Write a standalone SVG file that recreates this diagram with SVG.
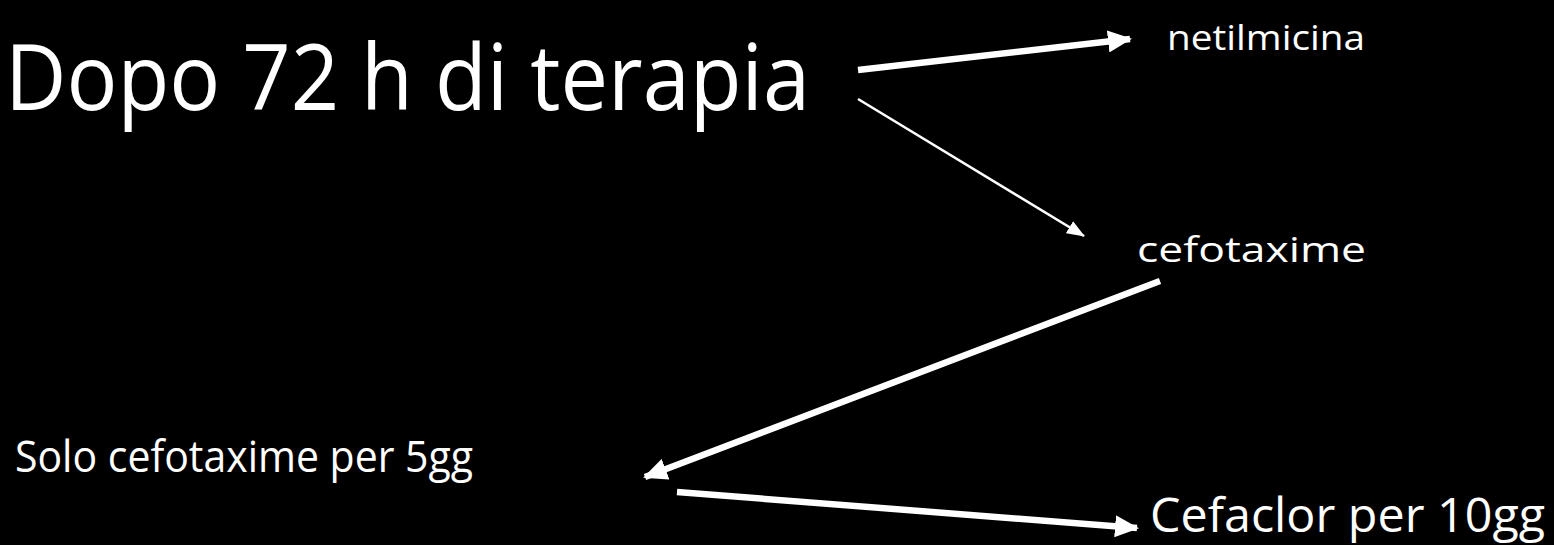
<svg xmlns="http://www.w3.org/2000/svg" width="1554" height="545" viewBox="0 0 1554 545">
<style>
text{fill:#fff;font-family:"Comic Sans MS","Open Sans","DejaVu Sans",sans-serif}
.thick{stroke:#fff;stroke-width:6.5;fill:none}
.thin{stroke:#fff;stroke-width:2.5;fill:none}
</style>
<defs>
<marker id="ah" viewBox="0 0 24 22" refX="22" refY="11" markerWidth="24" markerHeight="22" markerUnits="userSpaceOnUse" orient="auto"><path d="M0,0L24,11L0,22z" fill="#fff"/></marker>
<marker id="ahs" viewBox="0 0 18 14" refX="17" refY="7" markerWidth="18" markerHeight="14" markerUnits="userSpaceOnUse" orient="auto"><path d="M0,0L18,7L0,14z" fill="#fff"/></marker>
</defs>
<rect width="1554" height="545" fill="#000"/>
<g id="connectors">
<line class="thick" x1="858" y1="70" x2="1130" y2="39" marker-end="url(#ah)"/>
<line class="thin" x1="858" y1="99" x2="1084" y2="236" marker-end="url(#ahs)"/>
<line class="thick" x1="1160" y1="281" x2="645" y2="477" marker-end="url(#ah)"/>
<line class="thick" x1="677" y1="492" x2="1137" y2="528" marker-end="url(#ah)"/>
</g>
<g id="n-dopo"><text x="5" y="110" font-size="92" textLength="805" lengthAdjust="spacingAndGlyphs">Dopo 72 h di terapia</text></g>
<g id="n-netil"><text x="1167" y="50" font-size="35" textLength="198" lengthAdjust="spacingAndGlyphs">netilmicina</text></g>
<g id="n-cefo"><text x="1137" y="262" font-size="35" textLength="229" lengthAdjust="spacingAndGlyphs">cefotaxime</text></g>
<g id="n-solo"><text x="15" y="472" font-size="44" textLength="458" lengthAdjust="spacingAndGlyphs">Solo cefotaxime per 5gg</text></g>
<g id="n-cefaclor"><text x="1150" y="532" font-size="47" textLength="395" lengthAdjust="spacingAndGlyphs">Cefaclor per 10gg</text></g>
</svg>
